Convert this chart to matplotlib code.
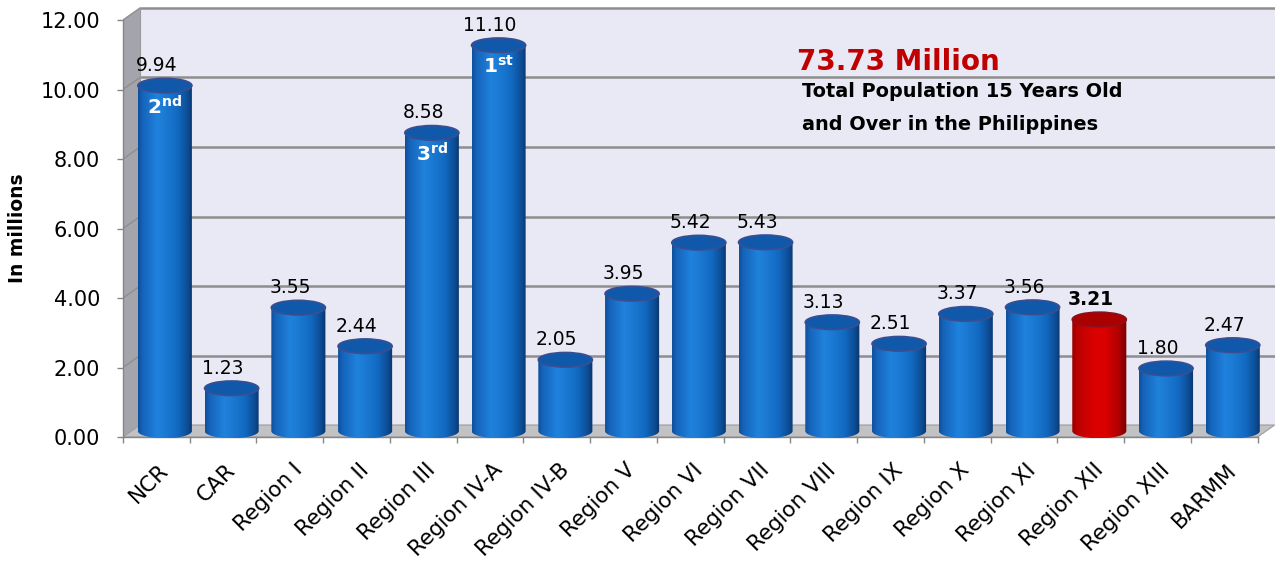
import numpy as np
import matplotlib
matplotlib.use("Agg")
import matplotlib.pyplot as plt
from matplotlib.path import Path
from matplotlib.patches import PathPatch, Ellipse, Polygon
from matplotlib.colors import LinearSegmentedColormap

# ---------------- data ----------------
regions = ["NCR", "CAR", "Region I", "Region II", "Region III", "Region IV-A",
           "Region IV-B", "Region V", "Region VI", "Region VII", "Region VIII",
           "Region IX", "Region X", "Region XI", "Region XII", "Region XIII", "BARMM"]
values = [9.94, 1.23, 3.55, 2.44, 8.58, 11.10, 2.05, 3.95, 5.42, 5.43, 3.13,
          2.51, 3.37, 3.56, 3.21, 1.80, 2.47]
rank_regions = ["Region IV-A", "NCR", "Region III"]
rank_labels = [("1", "st"), ("2", "nd"), ("3", "rd")]
highlight_region = "Region XII"
y_ticks = [0, 2, 4, 6, 8, 10, 12]
y_tick_labels = ["0.00", "2.00", "4.00", "6.00", "8.00", "10.00", "12.00"]
total_label = "73.73 Million"
subtitle_lines = ["Total Population 15 Years Old", "and Over in the Philippines"]
y_label = "In millions"

# ---------------- figure ----------------
W, H = 1275, 562
fig = plt.figure(figsize=(W / 100, H / 100), dpi=100)
fig.patch.set_facecolor("white")
ax = fig.add_axes([123 / W, 0.1853, 1 - 123 / W, 0.80385])
ax.set_facecolor("none")

DX = 17 / 66.75   # depth offset in x data units
DY = 12 / 34.75   # depth offset in y data units
n = len(regions)
xmax = n - 0.5
ytop = y_ticks[-1]

# walls
ax.add_patch(Polygon([(-0.5 + DX, DY), (xmax + DX, DY), (xmax + DX, ytop + DY),
                      (-0.5 + DX, ytop + DY)], closed=True, fc="#E8E9F5", ec="none", zorder=0))
ax.add_patch(Polygon([(-0.5, 0), (-0.5 + DX, DY), (-0.5 + DX, ytop + DY), (-0.5, ytop)],
                     closed=True, fc="#A4A4AC", ec="none", zorder=0.5))
ax.add_patch(Polygon([(-0.5, 0), (xmax, 0), (xmax + DX, DY), (-0.5 + DX, DY)],
                     closed=True, fc="#C2C2C4", ec="#9C9C9C", lw=0.8, zorder=1))
for yv in y_ticks[1:]:
    ax.plot([-0.5 + DX, xmax + DX], [yv + DY, yv + DY], color="#8E8E8E", lw=1.8, zorder=1,
            solid_capstyle="butt")
    ax.plot([-0.5, -0.5 + DX], [yv, yv + DY], color="#8E8E8E", lw=1.0, zorder=1)
ax.plot([-0.5 + DX, -0.5 + DX], [DY, ytop + DY], color="#9A9A9A", lw=0.8, zorder=1)

# colormaps
blue_cmap = LinearSegmentedColormap.from_list("blue", [
    (0.0, "#0E4F9A"), (0.08, "#1563BA"), (0.35, "#1F82DC"), (0.48, "#1C7BD4"),
    (0.72, "#126AC2"), (0.9, "#0D4D96"), (1.0, "#0A3468")])
red_cmap = LinearSegmentedColormap.from_list("red", [
    (0.0, "#9A0000"), (0.1, "#BC0000"), (0.4, "#DA0000"), (0.6, "#DC0000"),
    (0.85, "#B00000"), (1.0, "#780000")])
grad = np.linspace(0, 1, 256).reshape(1, -1)

w = 0.405
eh = 0.21
for i, (reg, v) in enumerate(zip(regions, values)):
    hl = reg == highlight_region
    xc = i + DX / 2
    y0 = DY / 2
    y1 = v + DY / 2
    th = np.linspace(np.pi, 2 * np.pi, 60)
    bx = xc + w * np.cos(th)
    by = y0 + eh * np.sin(th)
    verts = [(xc - w, y1)] + list(zip(bx, by)) + [(xc + w, y1), (xc - w, y1)]
    codes = [Path.MOVETO] + [Path.LINETO] * (len(verts) - 2) + [Path.CLOSEPOLY]
    body = PathPatch(Path(verts, codes), fc="none", ec="none", zorder=3)
    ax.add_patch(body)
    im = ax.imshow(grad, cmap=red_cmap if hl else blue_cmap, extent=(xc - w, xc + w, y0 - eh, y1),
                   aspect="auto", interpolation="bilinear", zorder=3)
    im.set_clip_path(body)
    ax.add_patch(Ellipse((xc, y1), 2 * w, 2 * eh,
                         fc="#AA0000" if hl else "#1059AA",
                         ec="#8A1020" if hl else "#3A4E90", lw=1.2, zorder=4))
    ax.annotate(f"{v:.2f}", xy=(i, v), xytext=(0, 26 * 0.72), textcoords="offset points",
                ha="center", va="center", fontsize=13.5,
                fontweight="bold" if hl else "normal", color="black", zorder=6)
    if reg in rank_regions:
        num, suf = rank_labels[rank_regions.index(reg)]
        ax.annotate(r"$\mathbf{%s}^{\mathbf{%s}}$" % (num, suf), xy=(xc, y1),
                    xytext=(0, -21 * 0.72), textcoords="offset points",
                    ha="center", va="center", fontsize=14.5, color="white", zorder=6)

# axes lines / ticks
ax.set_xlim(-0.5, 16.76)
ax.set_ylim(-0.6, 12.4)
for s in ["top", "right"]:
    ax.spines[s].set_visible(False)
ax.spines["left"].set_position(("data", -0.5))
ax.spines["left"].set_bounds(0, ytop)
ax.spines["bottom"].set_position(("data", 0))
ax.spines["bottom"].set_bounds(-0.5, xmax)
for s in ["left", "bottom"]:
    ax.spines[s].set_color("#868686")
    ax.spines[s].set_linewidth(1.0)
    ax.spines[s].set_zorder(2)

ax.set_yticks(y_ticks)
ax.set_yticklabels(y_tick_labels)
ax.tick_params(axis="y", length=4.3, width=1, color="#868686", pad=12.0, labelsize=15)
ax.set_xticks(np.arange(-0.5, n, 1.0))
ax.set_xticklabels([])
ax.tick_params(axis="x", length=4.3, width=1, color="#868686")

for i, reg in enumerate(regions):
    ax.annotate(reg, xy=(i, 0), xytext=(9 * 0.72, -30 * 0.72), textcoords="offset points",
                ha="right", va="center", rotation=45, rotation_mode="anchor",
                fontsize=15.5, color="black")

fig.text(18 / W, 1 - 228 / H, y_label, rotation=90, ha="center", va="center",
         fontsize=13.5, fontweight="bold")
fig.text(797 / W, 1 - 70 / H, total_label, color="#C00000", fontsize=20,
         fontweight="bold", va="baseline", ha="left")
fig.text(802 / W, 1 - 97 / H, subtitle_lines[0], fontsize=13.9, fontweight="bold",
         va="baseline", ha="left")
fig.text(802 / W, 1 - 130 / H, subtitle_lines[1], fontsize=13.9, fontweight="bold",
         va="baseline", ha="left")

fig.savefig("out.png", dpi=100)
